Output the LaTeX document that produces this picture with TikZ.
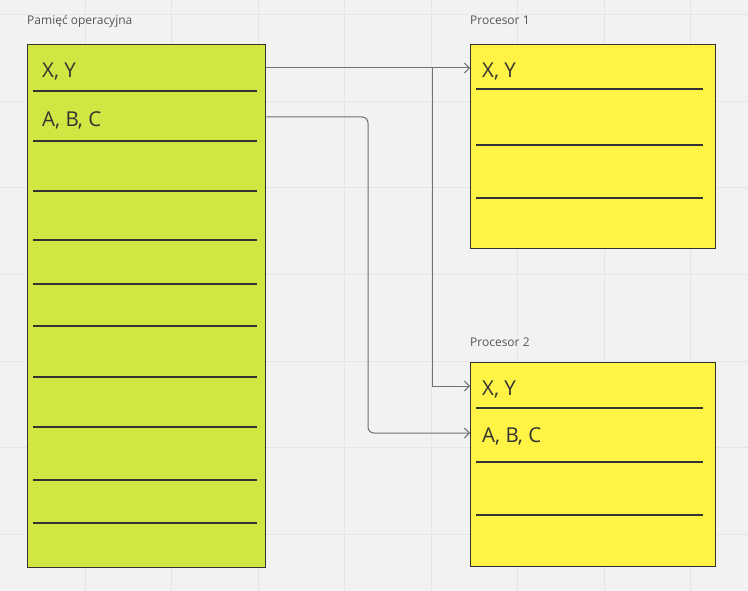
\documentclass[tikz,border=0pt]{standalone}
\usepackage{fontspec}
\setmainfont{Open Sans}
\usetikzlibrary{arrows.meta}
\definecolor{bg}{HTML}{F2F2F2}
\definecolor{gridc}{HTML}{E6E6E6}
\definecolor{memfill}{HTML}{D1E643}
\definecolor{cpufill}{HTML}{FFF345}
\definecolor{edge}{HTML}{333333}
\definecolor{conn}{HTML}{707070}
\definecolor{titlec}{HTML}{555555}
\tikzset{
  box/.style={draw=edge, line width=1.3pt, inner sep=0pt, anchor=north west},
  rowline/.style={draw=edge, line width=1.3pt},
  cell/.style={anchor=west, inner sep=0pt, text height=19pt, text depth=0pt, font=\fontsize{20.5}{24}\selectfont, text=edge},
  title/.style={anchor=base west, inner sep=0pt, font=\fontsize{12}{14}\selectfont, text=titlec},
  link/.style={draw=conn, line width=1pt, rounded corners=6pt},
  tip/.style={-{Straight Barb[length=5pt,width=10pt,line width=1pt]}}
}
\begin{document}
\begin{tikzpicture}[x=1pt,y=-1pt]
\fill[bg] (0,0) rectangle (748,591);
\useasboundingbox (0,0) rectangle (748,591);
\foreach \gx in {85,171.5,258,344.5,431,517.5,604,690.5}
  \draw[gridc, line width=1pt] (\gx,0) -- (\gx,591);
\foreach \gy in {15,101.5,188,274.5,361,447.5,534}
  \draw[gridc, line width=1pt] (0,\gy) -- (748,\gy);

% titles
\node[title] (tmem) at (27,25) {Pamięć operacyjna};
\node[title] (tp1) at (470,25) {Procesor 1};
\node[title] (tp2) at (470,346) {Procesor 2};

% memory box
\node[box, fill=memfill, minimum width=238pt, minimum height=523pt] (mem) at (27,44) {};
\foreach \ry in {91,141,191,240,284,326,377,427,480,523}
  \draw[rowline] (33,\ry) -- (257,\ry);
\node[cell] (mxy) at (42,68) {X, Y};
\node[cell] (mabc) at (42,117) {A, B, C};

% processor 1
\node[box, fill=cpufill, minimum width=245pt, minimum height=204pt] (p1) at (470,44) {};
\foreach \ry in {89,145,198}
  \draw[rowline] (476,\ry) -- (703,\ry);
\node[cell] (p1xy) at (482,68) {X, Y};

% processor 2
\node[box, fill=cpufill, minimum width=245pt, minimum height=204pt] (p2) at (470,362) {};
\foreach \ry in {408,462,515}
  \draw[rowline] (476,\ry) -- (703,\ry);
\node[cell] (p2xy) at (482,386) {X, Y};
\node[cell] (p2abc) at (482,433) {A, B, C};

% connectors
\draw[link, tip] (mxy -| mem.east) -- (p1xy -| p1.west);
\coordinate (split) at (432,68);
\draw[link, tip, rounded corners=0pt] (split) |- (p2xy -| p2.west);
\coordinate (bend) at (368,117);
\draw[link, tip] (mabc -| mem.east) -- (bend) |- (p2abc -| p2.west);
\end{tikzpicture}
\end{document}
